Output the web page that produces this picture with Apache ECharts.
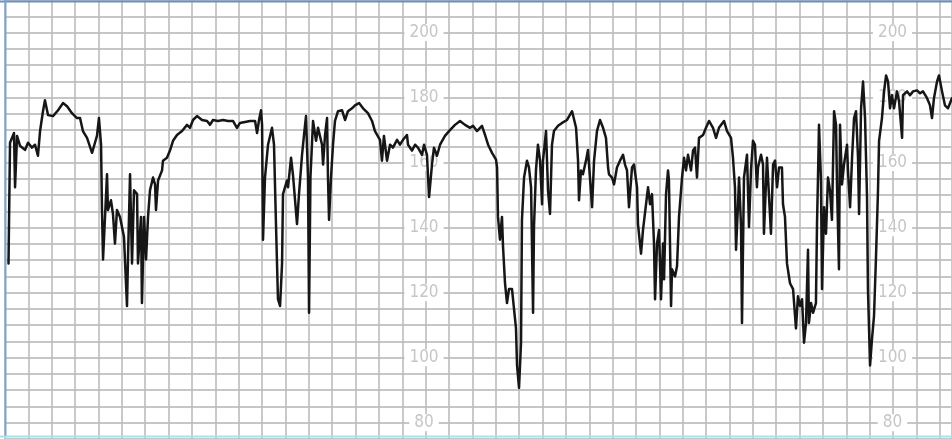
<!DOCTYPE html>
<html>
<head>
<meta charset="utf-8">
<script src="https://cdn.jsdelivr.net/npm/echarts@6/dist/echarts.min.js"></script>
<style>
  html, body { margin: 0; padding: 0; background: #fff; }
  #chart { width: 952px; height: 439px; }
</style>
</head>
<body>
<div id="chart"></div>
<script>
// Fetal heart rate trace: sample time (s) and rate (bpm)
const timeSec = [
  3, 4.3, 7.7, 8.6, 10.3, 12.8, 17.1, 19.7, 23.1, 25.7, 28.2, 30.0, 32.5, 34.2, 36.8, 41.1, 45.4, 49.6, 53.1, 57.3,
  61.6, 64.2, 66.7, 70.2, 74.5, 77.0, 78.7, 80.4, 82.2, 83.0, 83.9, 84.7, 87.3, 88.1, 90.7, 92.4, 94.1, 95.8, 98.4, 101.8,
  104.4, 105.3, 107.0, 108.7, 110.4, 113.0, 113.8, 116.4, 117.2, 119.0, 120.7, 122.4, 124.1, 126.7, 128.4, 129.2, 131.0, 134.4, 135.2, 138.6,
  141.2, 143.8, 147.2, 151.5, 155.8, 158.3, 160.9, 164.3, 168.6, 172.9, 175.4, 178.0, 182.3, 186.6, 190.8, 195.1, 198.5, 201.1, 205.4, 209.7,
  214.0, 215.7, 217.4, 219.1, 220.0, 220.8, 222.5, 225.1, 228.5, 230.2, 231.9, 233.6, 235.4, 237.1, 237.9, 241.3, 242.2, 244.8, 246.5, 248.2,
  249.9, 251.6, 254.2, 255.9, 257.6, 259.3, 260.2, 261.4, 263.6, 266.2, 267.9, 271.3, 272.2, 273.9, 275.6, 276.4, 277.3, 279.0, 280.7, 282.4,
  285.0, 288.4, 291.0, 293.5, 297.0, 299.5, 303.0, 306.4, 310.6, 314.1, 316.6, 320.9, 322.6, 324.3, 326.9, 329.5, 332.0, 335.5, 338.0, 340.6,
  344.0, 344.9, 348.3, 350.9, 353.4, 356.9, 358.6, 361.1, 362.9, 365.4, 367.1, 369.7, 372.3, 376.5, 380.8, 385.1, 389.4, 393.7, 398.0, 400.5,
  403.9, 408.2, 410.8, 413.4, 416.8, 420.2, 421.1, 421.9, 423.6, 425.3, 426.2, 427.9, 429.6, 431.3, 433.9, 435.6, 437.3, 438.2, 439.9, 441.6,
  442.4, 444.2, 446.7, 448.4, 450.2, 451.9, 452.7, 454.4, 456.1, 457.9, 459.6, 460.4, 463.0, 464.7, 466.4, 468.1, 469.8, 473.3, 476.7, 481.0,
  485.3, 486.1, 488.7, 490.4, 491.2, 492.9, 494.6, 497.2, 498.9, 500.6, 502.4, 504.1, 506.6, 509.2, 511.8, 514.3, 516.1, 516.9, 519.5, 521.2,
  523.7, 526.3, 528.9, 530.6, 532.3, 534.0, 536.6, 538.3, 540.9, 541.7, 544.3, 546.0, 548.6, 550.3, 552.0, 553.7, 555.4, 556.3, 558.0, 559.7,
  561.4, 563.1, 564.0, 565.7, 567.4, 568.2, 570.0, 570.8, 573.4, 575.1, 576.8, 579.4, 581.1, 582.8, 584.5, 587.1, 588.8, 590.5, 592.2, 593.9,
  597.4, 599.9, 602.5, 605.9, 608.5, 611.0, 615.3, 617.9, 621.3, 623.0, 624.7, 625.6, 627.3, 628.2, 629.9, 630.7, 632.4, 635.0, 636.7, 638.4,
  640.1, 641.8, 643.5, 644.4, 647.0, 648.7, 649.5, 652.1, 653.8, 655.5, 657.3, 659.0, 660.7, 662.4, 664.9, 665.8, 667.5, 669.2, 671.8, 674.4,
  676.9, 678.6, 680.4, 682.1, 683.8, 685.5, 687.2, 688.0, 689.8, 691.5, 694.0, 694.9, 695.8, 696.6, 698.3, 699.2, 700.9, 702.6, 704.3, 706.0,
  707.7, 709.5, 711.2, 712.0, 713.7, 714.6, 716.3, 718.0, 720.6, 721.4, 723.2, 724.9, 726.6, 728.3, 730.0, 730.9, 732.6, 734.3, 736.0, 737.7,
  738.5, 740.3, 742.0, 743.7, 745.4, 747.1, 748.0, 750.5, 752.3, 754.0, 755.7, 757.4, 759.1, 760.8, 763.4, 765.1, 767.7, 768.5, 772.0, 774.5,
  777.1, 780.5, 783.1, 785.6, 789.1, 791.6, 793.3, 795.0, 797.6, 799.3, 801.9, 804.4, 807.0, 810.4
];
const fhrBpm = [
  129.0, 166.1, 169.1, 152.4, 168.2, 165.2, 163.9, 166.1, 164.6, 165.5, 162.1, 169.7, 175.8, 179.2, 174.6, 174.3, 176.1, 178.3, 177.3, 175.2,
  173.7, 173.7, 169.7, 167.6, 163.0, 166.1, 168.2, 173.7, 165.5, 145.4, 130.2, 130.2, 156.4, 145.4, 148.4, 144.2, 135.1, 145.4, 143.3, 137.2,
  115.9, 131.1, 156.4, 129.0, 151.5, 150.3, 129.0, 143.3, 116.8, 143.3, 130.2, 143.3, 151.5, 155.4, 153.3, 145.4, 154.5, 157.6, 160.6, 161.5,
  163.7, 166.7, 168.5, 169.7, 171.6, 170.7, 173.1, 174.3, 173.1, 172.8, 171.6, 173.1, 172.8, 173.1, 172.8, 172.8, 170.7, 172.2, 172.5, 172.8,
  172.8, 169.1, 173.1, 176.1, 171.6, 136.3, 155.4, 165.5, 170.7, 165.5, 141.1, 118.0, 115.9, 129.0, 150.3, 154.5, 152.4, 161.5, 156.0, 155.4,
  141.1, 150.3, 162.4, 168.5, 174.3, 155.4, 113.8, 155.4, 172.8, 166.7, 170.7, 165.5, 159.4, 168.5, 173.7, 155.4, 142.4, 155.4, 165.5, 172.8,
  175.8, 176.1, 173.1, 175.8, 176.7, 177.6, 178.3, 176.7, 175.2, 172.8, 169.7, 167.0, 160.6, 168.2, 160.6, 165.5, 164.6, 167.0, 165.5, 167.0,
  168.5, 165.5, 163.7, 165.5, 164.6, 162.4, 165.5, 162.4, 149.4, 159.4, 164.6, 162.1, 165.5, 168.2, 170.0, 171.6, 172.8, 171.6, 170.7, 171.3,
  169.7, 171.3, 168.5, 165.5, 163.0, 160.9, 158.5, 143.3, 136.3, 143.3, 134.2, 122.9, 116.8, 121.1, 121.1, 115.0, 109.0, 97.6, 90.7, 104.6,
  142.4, 155.4, 160.6, 158.5, 152.4, 113.8, 140.2, 157.6, 165.5, 160.6, 147.2, 160.6, 169.7, 151.5, 144.2, 165.5, 169.7, 171.3, 172.2, 173.1,
  175.8, 176.1, 170.7, 160.6, 148.4, 157.6, 156.4, 160.6, 163.9, 155.4, 146.3, 160.6, 169.7, 173.1, 170.7, 167.6, 158.5, 156.4, 155.4, 153.3,
  158.5, 160.6, 162.4, 159.4, 157.6, 146.3, 158.5, 159.4, 152.4, 141.1, 132.0, 139.3, 147.2, 152.4, 147.2, 150.3, 135.1, 118.0, 135.1, 139.3,
  118.0, 135.1, 124.1, 150.3, 157.6, 154.5, 115.9, 127.2, 125.0, 128.1, 143.3, 155.4, 161.5, 157.6, 162.4, 157.6, 163.7, 164.6, 155.4, 167.6,
  168.5, 170.7, 172.8, 170.7, 167.6, 170.7, 172.8, 169.7, 167.6, 161.5, 152.4, 133.2, 147.2, 155.4, 140.2, 110.7, 155.4, 162.4, 140.2, 157.6,
  166.7, 165.5, 152.4, 158.5, 162.4, 159.4, 138.1, 161.5, 161.5, 138.1, 159.4, 160.6, 152.4, 158.5, 158.5, 147.2, 143.3, 129.0, 122.9, 121.1,
  109.0, 118.9, 115.9, 118.0, 104.6, 110.7, 133.2, 110.7, 116.8, 113.8, 116.8, 141.1, 156.4, 171.6, 154.5, 121.1, 146.3, 138.1, 155.4, 151.5,
  142.4, 175.8, 171.6, 153.3, 127.2, 171.6, 153.3, 159.4, 165.5, 157.6, 146.3, 161.5, 173.7, 175.8, 161.5, 144.2, 176.7, 184.9, 173.7, 149.4,
  121.1, 97.6, 105.9, 112.9, 131.1, 151.5, 166.7, 173.7, 181.9, 186.8, 184.9, 176.7, 180.7, 176.7, 181.9, 178.9, 167.6, 180.7, 181.9, 180.7,
  181.9, 182.2, 181.3, 181.9, 179.8, 177.6, 173.7, 179.8, 184.9, 186.8, 181.9, 177.6, 176.7, 179.8
];
// Printed scale numbers on the paper
const scaleLabels = [80, 100, 120, 140, 160, 180, 200];

const traceData = timeSec.map((t, i) => [t, fhrBpm[i]]);

const labelFont = "'Liberation Sans Narrow', 'DejaVu Sans Condensed', 'Liberation Sans', sans-serif";
function scaleLabelAxis(offset) {
  return {
    type: 'value', min: 75, max: 210, interval: 5,
    position: 'left', offset: offset, z: 1,
    axisLine: { show: false }, axisTick: { show: false }, splitLine: { show: false },
    axisLabel: {
      margin: 0, align: 'center',
      formatter: v => scaleLabels.includes(v) ? '{s|' + v + '}' : '',
      rich: {
        s: {
          color: '#c6c6c6', fontSize: 17, fontFamily: labelFont,
          backgroundColor: '#ffffff', padding: [0, 5], lineHeight: 14
        }
      }
    }
  };
}

const chart = echarts.init(document.getElementById('chart'), null, { renderer: 'canvas' });
chart.setOption({
  animation: false,
  backgroundColor: '#ffffff',
  grid: { left: 5, top: -0.5, width: 946.5, height: 444.5, containLabel: false },
  xAxis: {
    type: 'value', min: 0, max: 810, interval: 20,
    axisLine: { show: false }, axisTick: { show: false }, axisLabel: { show: false },
    splitLine: { show: true, lineStyle: { color: '#bcbcbc', width: 1.6 } }
  },
  yAxis: [
    {
      type: 'value', min: 75, max: 210, interval: 5,
      axisLine: { show: false }, axisTick: { show: false }, axisLabel: { show: false },
      splitLine: { show: true, lineStyle: { color: '#c6c6c6', width: 2.2 } }
    },
    scaleLabelAxis(-419),
    scaleLabelAxis(-887.5)
  ],
  graphic: [
    { type: 'line', silent: true, z: 5, shape: { x1: 0, y1: 1.5, x2: 952, y2: 1.5 }, style: { stroke: '#6a8fbf', lineWidth: 2 } },
    { type: 'line', silent: true, z: 5, shape: { x1: 5.5, y1: 0, x2: 5.5, y2: 436 }, style: { stroke: '#7aa6cf', lineWidth: 2 } },
    { type: 'line', silent: true, z: 5, shape: { x1: 0, y1: 436.5, x2: 952, y2: 436.5 }, style: { stroke: '#a6e2ee', lineWidth: 2 } }
  ],
  series: [{
    type: 'line', data: traceData, yAxisIndex: 0, z: 3,
    showSymbol: false, smooth: false,
    lineStyle: { color: '#161616', width: 2.5, join: 'round', cap: 'round' }
  }]
});
</script>
</body>
</html>
